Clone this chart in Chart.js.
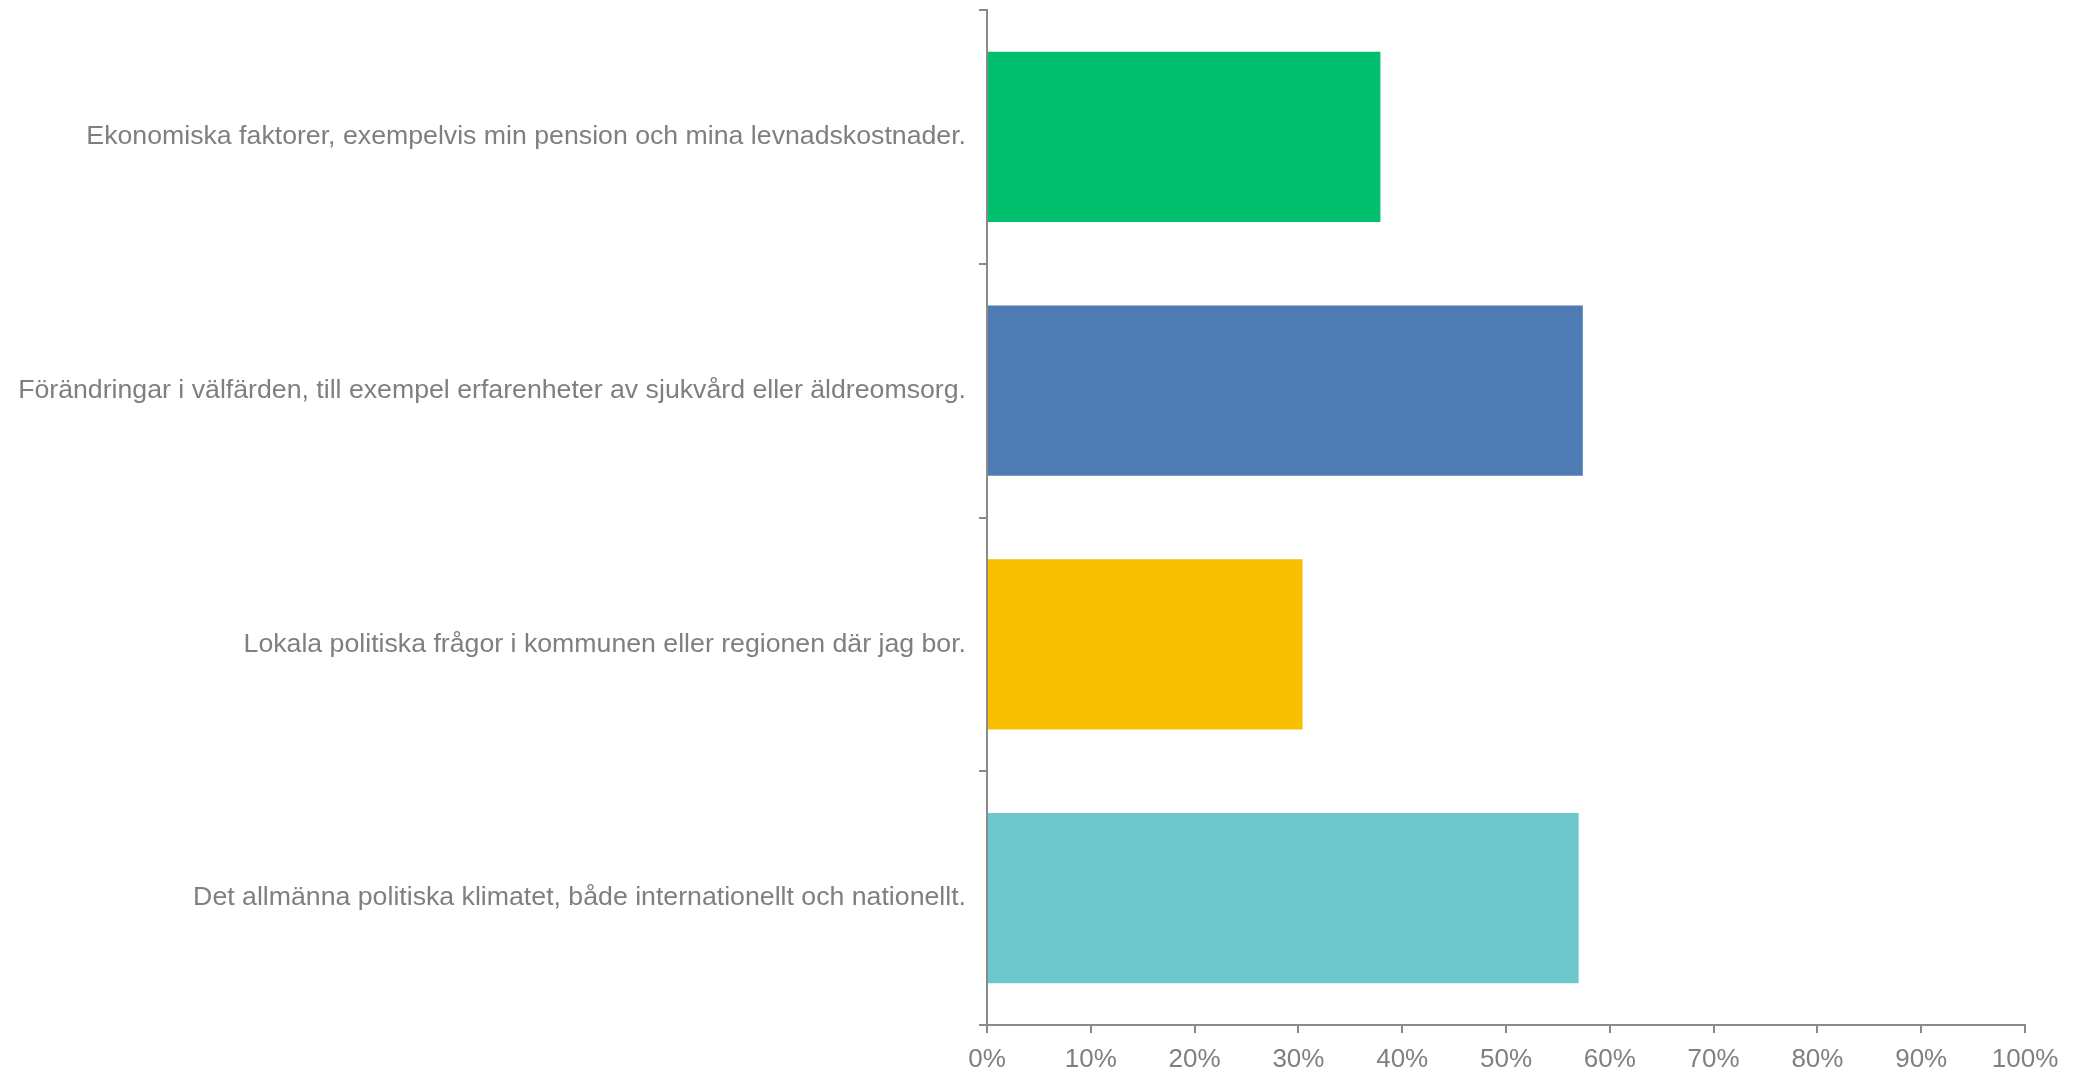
<!DOCTYPE html>
<html>
<head>
<meta charset="utf-8">
<script src="https://cdn.jsdelivr.net/npm/chart.js@4/dist/chart.umd.min.js"></script>
<style>
html,body{margin:0;padding:0;background:#fff;}
#wrap{width:2075px;height:1071px;position:relative;}
</style>
</head>
<body>
<div id="wrap"><canvas id="c" width="2075" height="1071"></canvas></div>
<script>
const categories = [
  "Ekonomiska faktorer, exempelvis min pension och mina levnadskostnader.",
  "Förändringar i välfärden, till exempel erfarenheter av sjukvård eller äldreomsorg.",
  "Lokala politiska frågor i kommunen eller regionen där jag bor.",
  "Det allmänna politiska klimatet, både internationellt och nationellt."
];
const values = [37.9, 57.4, 30.4, 57.0];
const barColors = ["#00BF6F", "#4E7BB4", "#F8BE00", "#6CC8CC"];
const xTickValues = [0, 10, 20, 30, 40, 50, 60, 70, 80, 90, 100];

const axisGray = "#8a8a8a";
const textGray = "#7f7f7f";

new Chart(document.getElementById('c'), {
  type: 'bar',
  data: {
    labels: categories,
    datasets: [{
      data: values,
      backgroundColor: barColors,
      borderWidth: 0,
      barPercentage: 0.67,
      categoryPercentage: 1.0
    }]
  },
  options: {
    indexAxis: 'y',
    responsive: false,
    animation: false,
    devicePixelRatio: 1,
    layout: { padding: { top: 10, right: 50, bottom: 0, left: 0 } },
    plugins: { legend: { display: false }, tooltip: { enabled: false } },
    scales: {
      x: {
        min: 0, max: 100,
        afterBuildTicks: (s) => { s.ticks = xTickValues.map(v => ({ value: v })); },
        afterFit: (s) => { s.height = 46; s.paddingLeft = 0; },
        grid: { display: true, drawOnChartArea: false, drawTicks: true, tickLength: 8, color: axisGray, lineWidth: 2 },
        border: { display: true, color: axisGray, width: 2 },
        ticks: {
          color: textGray,
          font: { family: "'Liberation Sans', Arial, sans-serif", size: 26 },
          padding: 11,
          maxRotation: 0,
          autoSkip: false,
          callback: (v) => v + '%'
        }
      },
      y: {
        afterFit: (s) => { s.width = 987; s.paddingTop = 0; s.paddingBottom = 0; },
        grid: { display: true, drawOnChartArea: false, drawTicks: true, tickLength: 8, color: axisGray, lineWidth: 2 },
        border: { display: true, color: axisGray, width: 2 },
        ticks: {
          color: textGray,
          font: { family: "'Liberation Sans', Arial, sans-serif", size: 26.7 },
          padding: 13,
          autoSkip: false
        }
      }
    }
  }
});
</script>
</body>
</html>
